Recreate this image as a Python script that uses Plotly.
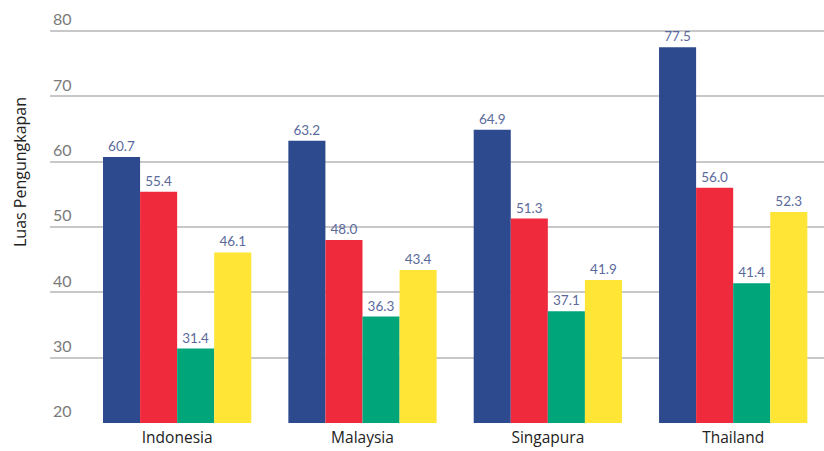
import plotly.graph_objects as go

categories = ["Indonesia", "Malaysia", "Singapura", "Thailand"]
series_names = ["Seri 1", "Seri 2", "Seri 3", "Seri 4"]
blue_vals = [60.7, 63.2, 64.9, 77.5]
red_vals = [55.4, 48.0, 51.3, 56.0]
green_vals = [31.4, 36.3, 37.1, 41.4]
yellow_vals = [46.1, 43.4, 41.9, 52.3]
y_ticks = [20, 30, 40, 50, 60, 70, 80]

colors = ["#2E4A8E", "#EE2A3C", "#00A57A", "#FFE535"]
all_vals = [blue_vals, red_vals, green_vals, yellow_vals]

fig = go.Figure()
for name, vals, c in zip(series_names, all_vals, colors):
    fig.add_trace(go.Bar(
        x=categories, y=vals, name=name, marker=dict(color=c, line=dict(width=0)),
        text=[f"{v:.1f}" for v in vals], textposition="outside",
        textfont=dict(family="Lato, Open Sans, sans-serif", size=13.5, color="#5B6A9C"),
        cliponaxis=False,
    ))

top_px, bot_px, y80_px = 8, 423, 31
px_per_unit = (bot_px - y80_px) / 60.0
y_top = 20 + (bot_px - top_px) / px_per_unit

fig.update_layout(
    width=824, height=451,
    margin=dict(l=50, r=0, t=top_px, b=451 - bot_px),
    paper_bgcolor="white", plot_bgcolor="white",
    barmode="group", bargap=0.2, bargroupgap=0,
    showlegend=False,
    font=dict(family="Lato, Open Sans, sans-serif"),
    xaxis=dict(
        range=[-0.686, 3.49], showgrid=False, showline=False, ticks="",
        ticklabelstandoff=3, automargin=False,
        tickfont=dict(family="Open Sans, sans-serif", size=15.5, color="#222222"),
    ),
    yaxis=dict(
        range=[20, y_top], tickvals=y_ticks, showgrid=True, gridcolor="#C8C8C8", gridwidth=2,
        zeroline=False, showline=False, ticks="", automargin=False,
        ticklabelposition="inside top",
        tickfont=dict(family="Lato, Open Sans, sans-serif", size=16, color="#7A7A7A"),
    ),
    annotations=[dict(
        text="Luas Pengungkapan", textangle=-90, xref="paper", yref="paper",
        x=(20 - 50) / 774, y=(bot_px - 172) / (bot_px - top_px), xanchor="center", yanchor="middle",
        showarrow=False, font=dict(family="Open Sans, sans-serif", size=16, color="#222222"),
    )],
)

fig.write_html("out.html")
